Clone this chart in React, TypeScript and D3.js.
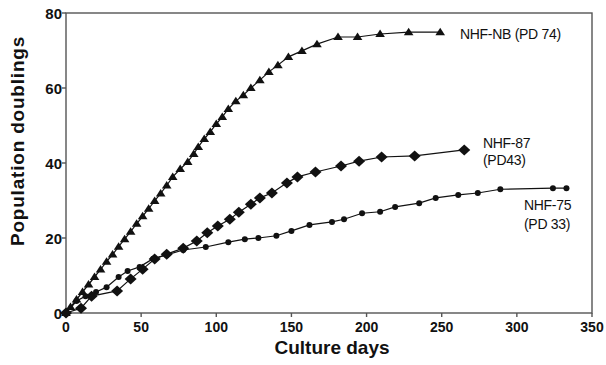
import React from "react";
import { scaleLinear, line } from "d3";

const width = 606;
const height = 365;
const margin = { left: 66, right: 14, top: 13, bottom: 52 };

// culture day / population doublings pairs
const nbDays = [0, 3, 7, 11, 15, 19, 23, 27, 31, 35, 39, 43, 47, 51, 55, 59, 63, 67, 71, 76, 81, 85, 88, 92, 96, 100, 104, 108, 113, 118, 123, 129, 135, 141, 148, 157, 167, 181, 194, 209, 228, 249];
const nbPD = [0, 1.6, 3.6, 5.6, 7.6, 9.6, 11.6, 13.7, 15.6, 17.7, 19.7, 21.7, 23.8, 25.8, 27.8, 29.9, 31.9, 34.0, 36.3, 38.4, 40.3, 42.4, 44.3, 46.4, 48.3, 50.4, 52.3, 54.4, 56.5, 58.1, 60.0, 62.1, 64.3, 66.1, 68.3, 69.9, 71.7, 73.6, 73.6, 74.4, 74.9, 74.9];

const n87Days = [0, 10, 17, 34, 43, 51, 59, 67, 78, 87, 94, 101, 109, 115, 123, 129, 137, 147, 154, 166, 183, 195, 210, 232, 265];
const n87PD = [0, 1.3, 4.5, 5.9, 9.1, 11.7, 14.4, 15.7, 17.3, 19.2, 21.4, 23.2, 25.0, 26.9, 29.0, 30.7, 32.0, 34.7, 36.3, 37.6, 39.2, 40.5, 41.6, 41.9, 43.5];

const n75Days = [0, 7, 13, 20, 27, 35, 41, 49, 58, 67, 78, 93, 108, 119, 128, 140, 150, 162, 177, 185, 197, 209, 219, 235, 246, 261, 274, 289, 324, 333];
const n75PD = [0, 3.2, 4.5, 5.6, 6.9, 9.6, 11.2, 12.3, 14.5, 15.5, 16.8, 17.6, 18.9, 19.7, 20.0, 20.6, 21.9, 23.5, 24.3, 25.0, 26.6, 27.0, 28.3, 29.3, 30.7, 31.5, 32.0, 33.0, 33.3, 33.3];

const xTicks = [0, 50, 100, 150, 200, 250, 300, 350];
const yTicks = [0, 20, 40, 60, 80];

const x = scaleLinear().domain([0, 350]).range([margin.left, width - margin.right]);
const y = scaleLinear().domain([0, 80]).range([height - margin.bottom, margin.top]);

const toPts = (days: number[], pd: number[]) => days.map((d, i) => [d, pd[i]] as [number, number]);
const path = line<[number, number]>()
  .x((d) => x(d[0]))
  .y((d) => y(d[1]));

const series = [
  { key: "nb", pts: toPts(nbDays, nbPD), marker: "triangle" },
  { key: "87", pts: toPts(n87Days, n87PD), marker: "diamond" },
  { key: "75", pts: toPts(n75Days, n75PD), marker: "circle" },
];

const ink = "#111";
const axisInk = "#555";
const font = "Arial, 'Liberation Sans', sans-serif";

const Marker = ({ kind, cx, cy }: { kind: string; cx: number; cy: number }) => {
  if (kind === "triangle")
    return <path d={`M${cx},${cy - 4.5}L${cx + 4.8},${cy + 3}L${cx - 4.8},${cy + 3}Z`} fill={ink} />;
  if (kind === "diamond")
    return <path d={`M${cx},${cy - 5.5}L${cx + 6},${cy}L${cx},${cy + 5.5}L${cx - 6},${cy}Z`} fill={ink} />;
  return <circle cx={cx} cy={cy} r={3} fill={ink} />;
};

export default function App() {
  const x0 = margin.left;
  const x1 = width - margin.right;
  const y0 = height - margin.bottom;
  const y1 = margin.top;
  return (
    <svg
      width={width}
      height={height}
      style={{ position: "absolute", left: 0, top: 0, background: "#fff" }}
      fontFamily={font}
    >
      {/* frame */}
      <rect x={x0} y={y1} width={x1 - x0} height={y0 - y1} fill="none" stroke={axisInk} strokeWidth={1.4} />
      {yTicks.map((t) => (
        <g key={t}>
          <line x1={x0 - 4} x2={x0} y1={y(t)} y2={y(t)} stroke={axisInk} strokeWidth={1.4} />
          <text x={x0 - 4} y={y(t)} dy="0.38em" textAnchor="end" fontSize={15} fontWeight="bold" fill={ink}>
            {t}
          </text>
        </g>
      ))}
      {xTicks.map((t) => (
        <g key={t}>
          <line x1={x(t)} x2={x(t)} y1={y0} y2={y0 + 4} stroke={axisInk} strokeWidth={1.4} />
          <text x={x(t)} y={y0 + 19} textAnchor="middle" fontSize={14} fontWeight="bold" fill={ink}>
            {t}
          </text>
        </g>
      ))}
      <text x={332} y={354} textAnchor="middle" fontSize={19} fontWeight="bold" fill={ink}>
        Culture days
      </text>
      <text
        transform="translate(24,141) rotate(-90)"
        textAnchor="middle"
        fontSize={19}
        fontWeight="bold"
        letterSpacing={0.8}
        fill={ink}
      >
        Population doublings
      </text>

      {series.map((s) => (
        <g key={s.key}>
          <path d={path(s.pts) ?? ""} fill="none" stroke={ink} strokeWidth={1.2} />
          {s.pts.map((p, i) => (
            <Marker key={i} kind={s.marker} cx={x(p[0])} cy={y(p[1])} />
          ))}
        </g>
      ))}

      <g fontSize={14} fill={ink} letterSpacing={-0.3}>
        <text x={460} y={39}>NHF-NB (PD 74)</text>
        <text x={483} y={148}>NHF-87</text>
        <text x={483} y={165}>(PD43)</text>
        <text x={524} y={210}>NHF-75</text>
        <text x={524} y={229}>(PD 33)</text>
      </g>
    </svg>
  );
}
